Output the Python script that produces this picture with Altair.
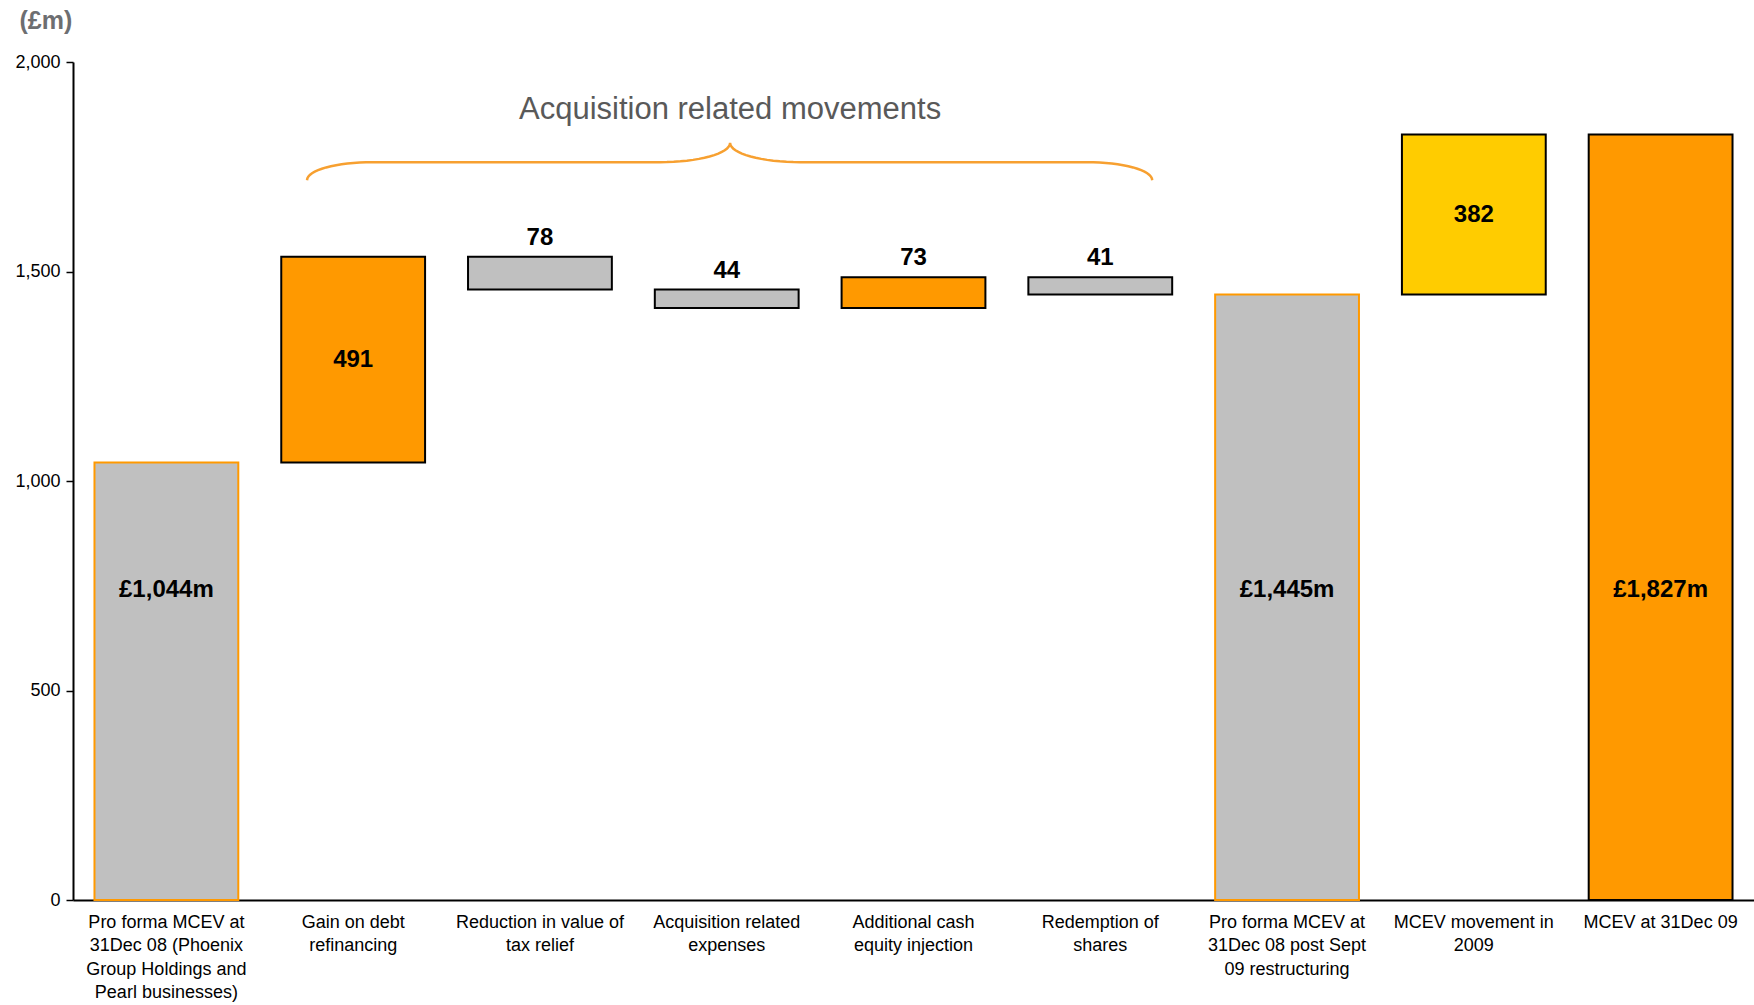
import math
import altair as alt
import pandas as pd

# --- data -----------------------------------------------------------------
categories = [
    "Pro forma MCEV at|31Dec 08 (Phoenix|Group Holdings and|Pearl businesses)",
    "Gain on debt|refinancing",
    "Reduction in value of|tax relief",
    "Acquisition related|expenses",
    "Additional cash|equity injection",
    "Redemption of|shares",
    "Pro forma MCEV at|31Dec 08 post Sept|09 restructuring",
    "MCEV movement in|2009",
    "MCEV at 31Dec 09",
]
amounts = [1044, 491, -78, -44, 73, -41, 1445, 382, 1827]
is_total = [True, False, False, False, False, False, True, False, True]
value_labels = ["£1,044m", "491", "78", "44", "73", "41", "£1,445m", "382", "£1,827m"]
label_place = ["total", "inside", "above", "above", "above", "above", "total", "inside", "total"]
bracket_title = "Acquisition related movements"

# --- styles ---------------------------------------------------------------
ORANGE = "#FF9900"
GREY = "#C0C0C0"
YELLOW = "#FFCC00"
fills = [GREY, ORANGE, GREY, GREY, ORANGE, GREY, GREY, YELLOW, ORANGE]
strokes = [ORANGE, "black", "black", "black", "black", "black", ORANGE, "black", "black"]
FONT = "Liberation Sans, Arial, sans-serif"
TOTAL_LABEL_LEVEL = 740  # £m height at which the running-total captions sit

# --- waterfall geometry from the amounts ----------------------------------
starts, ends = [], []
running = 0
for amt, tot in zip(amounts, is_total):
    if tot:
        starts.append(0)
        ends.append(amt)
        running = amt
    else:
        starts.append(running)
        running += amt
        ends.append(running)

df = pd.DataFrame({
    "cat": categories,
    "start": starts,
    "end": ends,
    "label": value_labels,
    "place": label_place,
    "fill": fills,
    "stroke": strokes,
})
df["top"] = df[["start", "end"]].max(axis=1)
df["mid"] = (df["start"] + df["end"]) / 2
df["label_y"] = [TOTAL_LABEL_LEVEL if p == "total" else m for p, m in zip(df["place"], df["mid"])]

x_enc = alt.X(
    "cat:N",
    sort=categories,
    scale=alt.Scale(paddingInner=0.23, paddingOuter=0.115),
    axis=alt.Axis(
        title=None,
        labelExpr="split(datum.label, '|')",
        labelAngle=0,
        labelFont=FONT,
        labelFontSize=18,
        labelColor="black",
        labelLineHeight=23.5,
        labelPadding=13,
        labelLimit=300,
        ticks=False,
        domainColor="black",
        domainWidth=2,
    ),
)
y_scale = alt.Scale(domain=[0, 2000], nice=False)
y_axis = alt.Axis(
    values=[0, 500, 1000, 1500, 2000],
    format=",d",
    grid=False,
    title="(£m)",
    titleAngle=0,
    titleX=-54,
    titleY=-42,
    titleAlign="left",
    titleBaseline="middle",
    titleFont=FONT,
    titleFontSize=25,
    titleFontWeight="bold",
    titleColor="#6D6E71",
    labelFont=FONT,
    labelFontSize=18,
    labelColor="black",
    labelPadding=6,
    tickColor="black",
    tickSize=7,
    tickWidth=1.5,
    domainColor="black",
    domainWidth=2,
)

bars = alt.Chart(df).mark_bar(strokeWidth=2).encode(
    x=x_enc,
    y=alt.Y("start:Q", scale=y_scale, axis=y_axis),
    y2="end:Q",
    fill=alt.Fill("fill:N", scale=None),
    stroke=alt.Stroke("stroke:N", scale=None),
)

text_style = dict(font=FONT, fontSize=24, fontWeight="bold", color="black")
above = alt.Chart(df).transform_filter("datum.place == 'above'").mark_text(
    baseline="bottom", dy=-7, **text_style
).encode(x=x_enc, y=alt.Y("top:Q", scale=y_scale), text="label:N")
inside = alt.Chart(df).transform_filter("datum.place != 'above'").mark_text(
    baseline="middle", **text_style
).encode(x=x_enc, y=alt.Y("label_y:Q", scale=y_scale), text="label:N")

waterfall = alt.layer(bars, above, inside)

# --- curly bracket over the acquisition items (x in category-band units) --
b_left, b_mid, b_right = 1.253, 3.518, 5.778
y_end, y_flat, y_tip = 1718, 1761, 1807
r_end, r_mid = 0.35, 0.375
pts = []
n = 16
for i in range(n + 1):  # left end hook
    t = math.pi / 2 * i / n
    pts.append((b_left + r_end * (1 - math.cos(t)), y_end + (y_flat - y_end) * math.sin(t)))
for i in range(n + 1):  # rise to the central point
    t = math.pi / 2 * i / n
    pts.append((b_mid - r_mid + r_mid * math.sin(t), y_flat + (y_tip - y_flat) * (1 - math.cos(t))))
for i in range(n + 1):  # fall from the central point
    t = math.pi / 2 * i / n
    pts.append((b_mid + r_mid * (1 - math.cos(t)), y_tip - (y_tip - y_flat) * math.sin(t)))
for i in range(n + 1):  # right end hook
    t = math.pi / 2 * i / n
    pts.append((b_right - r_end + r_end * math.sin(t), y_flat - (y_flat - y_end) * (1 - math.cos(t))))
brace_df = pd.DataFrame({"bx": [p[0] for p in pts], "by": [p[1] for p in pts], "o": range(len(pts))})
brace_df["t"] = ""
brace_text_df = pd.DataFrame({"bx": [b_mid], "by": [1885], "o": [0], "t": [bracket_title]})

bx_scale = alt.Scale(domain=[0, len(categories)], nice=False, zero=False)
brace_base = alt.Chart().encode(
    x=alt.X("bx:Q", scale=bx_scale, axis=None),
    y=alt.Y("by:Q", scale=y_scale),
)
brace = brace_base.mark_line(color="#F7A030", strokeWidth=2.5).encode(order="o:Q").properties(data=brace_df)
brace_title = brace_base.mark_text(
    font=FONT, fontSize=31, color="#595959", baseline="middle", align="center"
).encode(text="t:N").properties(data=brace_text_df)
bracket = alt.layer(brace, brace_title)

chart = (
    alt.layer(waterfall, bracket)
    .resolve_scale(x="independent")
    .properties(
        width=1681,
        height=838,
        padding={"left": 73, "top": 62, "right": 0, "bottom": 105},
        autosize=alt.AutoSizeParams(type="none"),
        background="white",
    )
    .configure_view(stroke=None)
)

chart.save("out.html", embed_options={"renderer": "svg", "actions": False})
